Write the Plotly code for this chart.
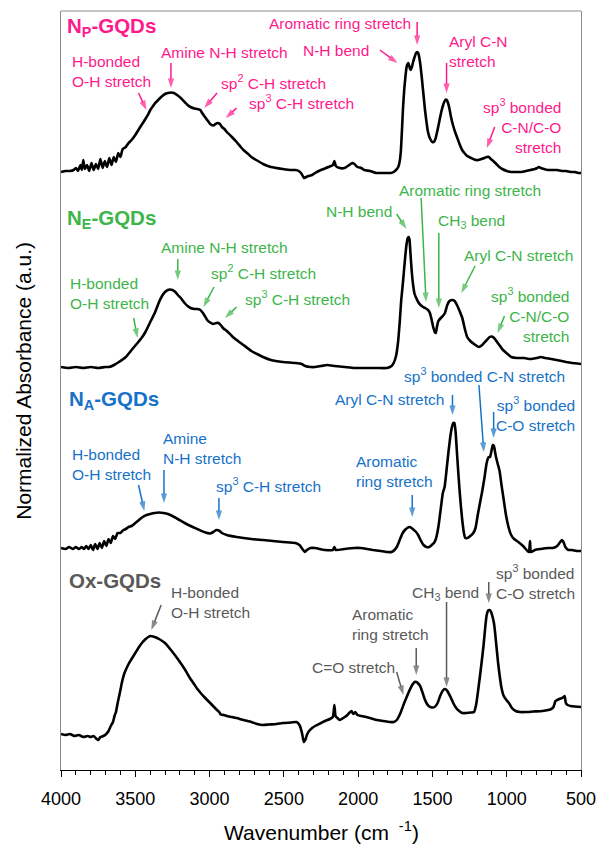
import plotly.graph_objects as go

# ---------------------------------------------------------------------------
# FTIR spectra (stacked, normalized absorbance with vertical offsets)
# ---------------------------------------------------------------------------
np_wn = [4000, 3970, 3940, 3915, 3900, 3885, 3870, 3860, 3850, 3840, 3825, 3810, 3795, 3780,
         3765, 3750, 3735, 3720, 3705, 3690, 3675, 3660, 3645, 3630, 3615, 3600, 3585, 3564,
         3545, 3525, 3500, 3475, 3458, 3432, 3412, 3399, 3380, 3366, 3346, 3326, 3300, 3280,
         3260, 3240, 3214, 3194, 3168, 3148, 3128, 3102, 3082, 3062, 3050, 3036, 3016, 2996,
         2975, 2960, 2945, 2930, 2917, 2900, 2884, 2850, 2818, 2790, 2772, 2740, 2719, 2686,
         2640, 2587, 2507, 2450, 2422, 2400, 2380, 2365, 2350, 2335, 2310, 2290, 2250, 2200,
         2170, 2160, 2150, 2124, 2091, 2060, 2040, 2025, 2005, 1980, 1959, 1920, 1880, 1840,
         1807, 1780, 1761, 1745, 1730, 1720, 1712, 1705, 1698, 1690, 1682, 1675, 1668, 1662,
         1656, 1650, 1645, 1638, 1630, 1620, 1610, 1603, 1596, 1588, 1580, 1570, 1560, 1550,
         1540, 1530, 1515, 1500, 1490, 1480, 1470, 1460, 1445, 1430, 1418, 1410, 1404, 1395,
         1385, 1375, 1360, 1345, 1330, 1315, 1300, 1285, 1266, 1240, 1210, 1190, 1170, 1150,
         1134, 1120, 1107, 1090, 1070, 1050, 1030, 1000, 969, 930, 900, 870, 840, 810, 795,
         784, 770, 750, 720, 690, 660, 630, 600, 570, 540, 520, 500]
np_abs = [5.98, 5.99, 5.99, 6.00, 6.02, 5.99, 6.05, 6.00, 6.10, 6.01, 6.05, 5.99, 6.07, 6.00,
          6.06, 6.01, 6.11, 6.02, 6.09, 6.03, 6.12, 6.05, 6.13, 6.08, 6.17, 6.13, 6.21, 6.23,
          6.27, 6.30, 6.35, 6.41, 6.45, 6.51, 6.56, 6.60, 6.64, 6.67, 6.70, 6.73, 6.76, 6.77,
          6.775, 6.77, 6.745, 6.72, 6.68, 6.65, 6.63, 6.615, 6.61, 6.60, 6.57, 6.54, 6.50, 6.46,
          6.445, 6.46, 6.47, 6.46, 6.43, 6.41, 6.38, 6.33, 6.28, 6.23, 6.20, 6.16, 6.13, 6.10,
          6.06, 6.03, 6.01, 6.00, 6.00, 5.99, 5.96, 5.92, 5.93, 5.94, 5.95, 5.97, 6.00, 6.03,
          6.05, 6.09, 6.04, 6.02, 6.02, 6.05, 6.07, 6.06, 6.03, 6.02, 6.00, 5.99, 5.97, 5.97,
          5.97, 5.97, 5.98, 6.00, 6.03, 6.09, 6.20, 6.40, 6.62, 6.80, 6.93, 7.02, 7.06, 7.07,
          7.04, 7.01, 7.00, 7.03, 7.08, 7.13, 7.17, 7.18, 7.17, 7.12, 7.04, 6.90, 6.75, 6.60,
          6.48, 6.38, 6.31, 6.28, 6.28, 6.31, 6.37, 6.44, 6.55, 6.64, 6.69, 6.705, 6.70, 6.67,
          6.61, 6.53, 6.44, 6.37, 6.31, 6.25, 6.20, 6.17, 6.14, 6.12, 6.10, 6.10, 6.11, 6.12,
          6.13, 6.13, 6.11, 6.09, 6.06, 6.03, 6.01, 5.99, 5.98, 5.98, 5.98, 5.99, 6.00, 6.01, 6.02,
          6.03, 6.02, 6.01, 6.00, 6.00, 6.00, 5.99, 5.99, 5.98, 5.98, 5.97, 5.97]

ne_wn = [4000, 3950, 3900, 3850, 3800, 3750, 3700, 3676, 3643, 3610, 3564, 3525, 3491, 3458,
         3432, 3399, 3366, 3340, 3320, 3300, 3280, 3267, 3250, 3230, 3214, 3194, 3168, 3148,
         3128, 3100, 3082, 3062, 3050, 3036, 3016, 2996, 2975, 2955, 2940, 2925, 2910, 2884,
         2850, 2818, 2772, 2719, 2680, 2640, 2587, 2507, 2422, 2380, 2356, 2320, 2290, 2250,
         2207, 2157, 2091, 2025, 1959, 1873, 1807, 1775, 1761, 1745, 1732, 1720, 1710, 1700,
         1690, 1682, 1674, 1666, 1660, 1654, 1648, 1640, 1630, 1620, 1609, 1596, 1580, 1563,
         1550, 1530, 1517, 1505, 1495, 1484, 1477, 1470, 1460, 1444, 1430, 1416, 1400, 1385,
         1370, 1350, 1335, 1320, 1299, 1280, 1266, 1245, 1220, 1187, 1165, 1140, 1115, 1101,
         1085, 1065, 1045, 1025, 1002, 969, 930, 883, 840, 800, 771, 740, 700, 665, 630, 600,
         560, 500]
ne_abs = [4.03, 4.02, 4.03, 4.02, 4.03, 4.02, 4.03, 4.03, 4.05, 4.08, 4.13, 4.20, 4.26, 4.32,
          4.38, 4.48, 4.58, 4.68, 4.74, 4.78, 4.80, 4.805, 4.80, 4.78, 4.75, 4.72, 4.67, 4.64,
          4.62, 4.61, 4.61, 4.60, 4.58, 4.55, 4.50, 4.475, 4.46, 4.47, 4.47, 4.45, 4.42, 4.39,
          4.34, 4.30, 4.25, 4.19, 4.16, 4.13, 4.10, 4.08, 4.07, 4.06, 4.04, 4.03, 4.03, 4.04,
          4.05, 4.04, 4.03, 4.02, 4.02, 4.02, 4.02, 4.04, 4.07, 4.14, 4.27, 4.48, 4.70, 4.85,
          5.02, 5.15, 5.26, 5.32, 5.33, 5.30, 5.17, 5.00, 4.85, 4.76, 4.72, 4.68, 4.65, 4.63,
          4.62, 4.60, 4.57, 4.50, 4.43, 4.38, 4.37, 4.43, 4.49, 4.52, 4.54, 4.57, 4.65, 4.69,
          4.70, 4.69, 4.65, 4.60, 4.52, 4.40, 4.33, 4.29, 4.26, 4.23, 4.25, 4.29, 4.33, 4.335,
          4.32, 4.28, 4.24, 4.20, 4.17, 4.13, 4.12, 4.12, 4.11, 4.12, 4.13, 4.12, 4.11, 4.10,
          4.09, 4.08, 4.07, 4.06]

na_wn = [4000, 3970, 3945, 3920, 3900, 3880, 3860, 3845, 3830, 3815, 3800, 3785, 3770, 3755,
         3740, 3725, 3710, 3695, 3680, 3665, 3650, 3635, 3620, 3600, 3580, 3564, 3545, 3525,
         3500, 3475, 3450, 3425, 3400, 3370, 3340, 3310, 3280, 3250, 3214, 3168, 3128, 3082,
         3036, 2996, 2975, 2955, 2937, 2917, 2884, 2818, 2719, 2640, 2507, 2422, 2395, 2375,
         2360, 2345, 2320, 2290, 2224, 2170, 2160, 2150, 2091, 2025, 1983, 1940, 1900, 1850,
         1807, 1775, 1755, 1740, 1728, 1715, 1700, 1685, 1670, 1654, 1640, 1625, 1610, 1596,
         1580, 1560, 1540, 1522, 1505, 1490, 1477, 1460, 1445, 1430, 1418, 1405, 1392, 1380,
         1370, 1360, 1352, 1344, 1336, 1328, 1319, 1308, 1298, 1288, 1279, 1265, 1245, 1225,
         1210, 1195, 1180, 1167, 1150, 1135, 1121, 1112, 1104, 1094, 1086, 1075, 1062, 1048,
         1035, 1020, 1005, 988, 970, 950, 922, 890, 860, 850, 843, 838, 810, 770, 720, 690,
         660, 640, 628, 618, 605, 585, 560, 530, 500]
na_abs = [2.22, 2.21, 2.23, 2.21, 2.23, 2.21, 2.23, 2.21, 2.24, 2.21, 2.25, 2.20, 2.26, 2.21,
          2.27, 2.22, 2.29, 2.24, 2.31, 2.27, 2.34, 2.31, 2.37, 2.37, 2.40, 2.41, 2.43, 2.44,
          2.47, 2.50, 2.53, 2.55, 2.56, 2.57, 2.575, 2.57, 2.56, 2.54, 2.51, 2.47, 2.44, 2.41,
          2.38, 2.365, 2.38, 2.40, 2.395, 2.37, 2.35, 2.33, 2.31, 2.30, 2.28, 2.27, 2.25, 2.21,
          2.18, 2.20, 2.22, 2.22, 2.20, 2.20, 2.23, 2.20, 2.21, 2.22, 2.22, 2.21, 2.20, 2.19,
          2.18, 2.18, 2.20, 2.23, 2.27, 2.32, 2.37, 2.40, 2.42, 2.43, 2.42, 2.40, 2.38, 2.35,
          2.30, 2.25, 2.23, 2.23, 2.25, 2.27, 2.31, 2.43, 2.60, 2.77, 2.83, 3.00, 3.18, 3.33,
          3.42, 3.47, 3.47, 3.38, 3.20, 3.02, 2.83, 2.63, 2.48, 2.37, 2.32, 2.32, 2.34, 2.37,
          2.42, 2.55, 2.67, 2.77, 2.92, 3.07, 3.13, 3.13, 3.18, 3.25, 3.24, 3.15, 3.07, 2.99,
          2.85, 2.70, 2.55, 2.43, 2.35, 2.31, 2.28, 2.24, 2.19, 2.18, 2.29, 2.18, 2.20, 2.21,
          2.22, 2.22, 2.24, 2.28, 2.30, 2.28, 2.23, 2.20, 2.20, 2.19, 2.19]

ox_wn = [4000, 3970, 3940, 3910, 3880, 3850, 3820, 3800, 3780, 3760, 3748, 3735, 3715, 3695,
         3680, 3665, 3650, 3640, 3630, 3620, 3610, 3600, 3591, 3575, 3564, 3545, 3525, 3500,
         3475, 3450, 3430, 3412, 3399, 3380, 3360, 3340, 3300, 3260, 3214, 3168, 3128, 3100,
         3082, 3060, 3036, 3016, 2996, 2970, 2950, 2935, 2925, 2904, 2884, 2850, 2818, 2772,
         2719, 2680, 2640, 2600, 2550, 2507, 2450, 2415, 2395, 2378, 2366, 2356, 2345, 2330,
         2310, 2290, 2250, 2224, 2190, 2170, 2160, 2152, 2140, 2124, 2100, 2080, 2060, 2045,
         2032, 2020, 2005, 1980, 1959, 1920, 1873, 1830, 1790, 1761, 1740, 1715, 1690, 1662,
         1640, 1620, 1609, 1596, 1583, 1570, 1555, 1540, 1525, 1505, 1485, 1465, 1448, 1432,
         1418, 1405, 1392, 1375, 1360, 1340, 1320, 1299, 1270, 1240, 1220, 1205, 1192, 1180,
         1167, 1155, 1145, 1135, 1125, 1115, 1105, 1095, 1086, 1078, 1068, 1058, 1048, 1035,
         1020, 1002, 985, 965, 940, 910, 870, 820, 760, 720, 700, 685, 672, 660, 645, 628,
         616, 610, 602, 590, 570, 540, 500]
ox_abs = [0.36, 0.35, 0.36, 0.34, 0.35, 0.33, 0.34, 0.33, 0.34, 0.31, 0.30, 0.33, 0.34, 0.36,
          0.39, 0.44, 0.48, 0.54, 0.58, 0.66, 0.73, 0.80, 0.87, 0.96, 1.00, 1.06, 1.11, 1.17,
          1.23, 1.28, 1.31, 1.33, 1.34, 1.335, 1.325, 1.31, 1.27, 1.20, 1.11, 1.01, 0.91, 0.85,
          0.81, 0.77, 0.73, 0.70, 0.67, 0.63, 0.60, 0.58, 0.555, 0.55, 0.54, 0.53, 0.52, 0.50,
          0.48, 0.46, 0.45, 0.455, 0.46, 0.47, 0.475, 0.48, 0.45, 0.37, 0.28, 0.30, 0.35, 0.39,
          0.42, 0.44, 0.47, 0.49, 0.51, 0.53, 0.65, 0.54, 0.52, 0.50, 0.52, 0.54, 0.57, 0.59,
          0.56, 0.58, 0.55, 0.54, 0.535, 0.52, 0.50, 0.49, 0.48, 0.48, 0.50, 0.57, 0.67, 0.77,
          0.84, 0.88, 0.88, 0.865, 0.84, 0.79, 0.72, 0.67, 0.64, 0.625, 0.63, 0.67, 0.74, 0.79,
          0.81, 0.80, 0.77, 0.72, 0.67, 0.62, 0.59, 0.57, 0.57, 0.575, 0.58, 0.66, 0.80, 0.94,
          1.10, 1.26, 1.42, 1.55, 1.595, 1.60, 1.58, 1.53, 1.47, 1.37, 1.22, 1.07, 0.95, 0.82,
          0.74, 0.70, 0.67, 0.62, 0.59, 0.58, 0.58, 0.585, 0.59, 0.60, 0.61, 0.63, 0.69, 0.70,
          0.71, 0.72, 0.73, 0.74, 0.67, 0.65, 0.64, 0.635, 0.63]

SPECTRA = [("NP-GQDs", np_wn, np_abs), ("NE-GQDs", ne_wn, ne_abs),
           ("NA-GQDs", na_wn, na_abs), ("Ox-GQDs", ox_wn, ox_abs)]

# ---------------------------------------------------------------------------
# Peak assignments: (text, wavenumber, stacked y, x-anchor, group)
# ---------------------------------------------------------------------------
COLORS = {"P": "#FF1A8C", "E": "#3DB54A", "A": "#1672C8", "O": "#595959"}

TITLES = [("<b>N<sub>P</sub>-GQDs</b>", 3974, 7.43, "P"),
          ("<b>N<sub>E</sub>-GQDs</b>", 3974, 5.51, "E"),
          ("<b>N<sub>A</sub>-GQDs</b>", 3960, 3.70, "A"),
          ("<b>Ox-GQDs</b>", 3960, 1.90, "O")]

LABELS = [
    ("H-bonded<br>O-H stretch", 3941, 6.985, "left", "P"),
    ("Amine N-H stretch", 3340, 7.18, "left", "P"),
    ("sp<sup>2</sup> C-H stretch", 2937, 6.88, "left", "P"),
    ("sp<sup>3</sup> C-H stretch", 2745, 6.68, "left", "P"),
    ("Aromatic ring stretch", 1629, 7.47, "right", "P"),
    ("N-H bend", 1913, 7.20, "right", "P"),
    ("Aryl C-N<br>stretch", 1405, 7.19, "left", "P"),
    ("sp<sup>3</sup> bonded<br>C-N/C-O<br>stretch", 619, 6.445, "right", "P"),

    ("H-bonded<br>O-H stretch", 3954, 4.77, "left", "E"),
    ("Amine N-H stretch", 3340, 5.23, "left", "E"),
    ("sp<sup>2</sup> C-H stretch", 3003, 4.98, "left", "E"),
    ("sp<sup>3</sup> C-H stretch", 2778, 4.72, "left", "E"),
    ("Aromatic ring stretch", 1741, 5.80, "left", "E"),
    ("N-H bend", 1761, 5.59, "right", "E"),
    ("CH<sub>3</sub> bend", 1477, 5.49, "left", "E"),
    ("Aryl C-N stretch", 1299, 5.15, "left", "E"),
    ("sp<sup>3</sup> bonded<br>C-N/C-O<br>stretch", 566, 4.55, "right", "E"),

    ("H-bonded<br>O-H stretch", 3941, 3.06, "left", "A"),
    ("Amine<br>N-H stretch", 3326, 3.22, "left", "A"),
    ("sp<sup>3</sup> C-H stretch", 2970, 2.85, "left", "A"),
    ("Aromatic<br>ring stretch", 2025, 2.985, "left", "A"),
    ("Aryl C-N stretch", 1411, 3.71, "right", "A"),
    ("sp<sup>3</sup> bonded C-N stretch", 1708, 3.95, "left", "A"),
    ("sp<sup>3</sup> bonded<br>C-O stretch", 526, 3.565, "right", "A"),

    ("H-bonded<br>O-H stretch", 3274, 1.675, "left", "O"),
    ("sp<sup>3</sup> bonded<br>C-O stretch", 1088, 1.88, "left", "O"),
    ("CH<sub>3</sub> bend", 1649, 1.77, "left", "O"),
    ("Aromatic<br>ring stretch", 2058, 1.46, "left", "O"),
    ("C=O stretch", 2323, 1.03, "left", "O"),
]

# Pointer arrows: (tail wavenumber, tail y, head wavenumber, head y, group)
ARROWS = [
    (1603, 7.48, 1603, 7.25, "P"), (1854, 7.20, 1735, 7.07, "P"),
    (1405, 7.07, 1405, 6.77, "P"), (1081, 6.43, 1134, 6.22, "P"),
    (3478, 6.77, 3425, 6.60, "P"), (3260, 7.07, 3260, 6.82, "P"),
    (2950, 6.77, 3036, 6.62, "P"), (2818, 6.62, 2891, 6.52, "P"),

    (3511, 4.52, 3485, 4.32, "E"), (3214, 5.11, 3214, 4.90, "E"),
    (2970, 4.83, 3042, 4.63, "E"), (2818, 4.63, 2897, 4.52, "E"),
    (1576, 5.72, 1543, 4.68, "E"), (1741, 5.56, 1675, 5.41, "E"),
    (1457, 5.37, 1457, 4.62, "E"), (1213, 5.04, 1306, 4.77, "E"),
    (1015, 4.54, 1061, 4.37, "E"),

    (3478, 2.85, 3439, 2.59, "A"), (3307, 3.00, 3307, 2.67, "A"),
    (2937, 2.72, 2937, 2.50, "A"), (1636, 2.75, 1636, 2.53, "A"),
    (1365, 3.75, 1365, 3.55, "A"), (1187, 3.85, 1154, 3.18, "A"),
    (1088, 3.58, 1088, 3.32, "A"),

    (3326, 1.65, 3392, 1.40, "O"), (1121, 1.88, 1121, 1.67, "O"),
    (1405, 1.68, 1405, 0.83, "O"), (1609, 1.22, 1609, 0.95, "O"),
    (1741, 0.98, 1695, 0.75, "O"),
]

X_TICKS = [4000, 3500, 3000, 2500, 2000, 1500, 1000, 500]
FONT = "Liberation Sans, Arial, sans-serif"

fig = go.Figure()
for name, wn, ab in SPECTRA:
    fig.add_trace(go.Scatter(x=wn, y=ab, mode="lines", name=name,
                             line=dict(color="black", width=2.6, shape="spline", smoothing=0.4),
                             hoverinfo="skip", showlegend=False))

# Arrows as two-point lines with an arrow-shaped marker at the head
for x0, y0, x1, y1, grp in ARROWS:
    c = COLORS[grp]
    fig.add_trace(go.Scatter(x=[x0, x1], y=[y0, y1], mode="lines+markers",
                             line=dict(color=c, width=1.5),
                             marker=dict(symbol="arrow", size=[0, 10], angleref="previous",
                                         color=c, line=dict(width=0)),
                             hoverinfo="skip", showlegend=False))

annotations = []
for text, x, y, grp in TITLES:
    annotations.append(dict(text=text, x=x, y=y, xref="x", yref="y", xanchor="left",
                            yanchor="middle", showarrow=False,
                            font=dict(family=FONT, size=20.5, color=COLORS[grp])))
for text, x, y, anchor, grp in LABELS:
    annotations.append(dict(text=text, x=x, y=y, xref="x", yref="y", xanchor=anchor,
                            yanchor="middle", align=anchor, showarrow=False,
                            font=dict(family=FONT, size=15.5, color=COLORS[grp])))

# Axis titles
annotations.append(dict(text="Normalized Absorbance (a.u.)", xref="paper", yref="paper",
                        x=-0.0736, y=0.5125, textangle=-90, showarrow=False,
                        xanchor="center", yanchor="middle",
                        font=dict(family=FONT, size=21, color="black")))
annotations.append(dict(text="Wavenumber (cm <sup>&nbsp;-1</sup>)", xref="paper", yref="paper",
                        x=0.5, y=-0.0804, showarrow=False, xanchor="center", yanchor="middle",
                        font=dict(family=FONT, size=21, color="black")))

fig.update_layout(
    width=607, height=844,
    margin=dict(l=61, r=16, t=11, b=74),
    paper_bgcolor="white", plot_bgcolor="white",
    annotations=annotations,
    shapes=[dict(type="line", xref="paper", yref="paper", x0=0, x1=1, y0=1, y1=1,
                 line=dict(color="#8C8C8C", width=1.2))],
)
fig.update_xaxes(range=[4000, 500], tickvals=X_TICKS, ticktext=[str(v) for v in X_TICKS],
                 ticks="outside", ticklen=6, tickwidth=1.2, tickcolor="black",
                 minor=dict(dtick=100, ticks="outside", ticklen=4, tickwidth=1, tickcolor="black"),
                 showline=True, linecolor="black", linewidth=1.2, mirror=False,
                 showgrid=False, zeroline=False, ticklabelstandoff=6,
                 tickfont=dict(family=FONT, size=18, color="black"))
fig.update_yaxes(range=[0, 7.59], showticklabels=False, ticks="", showgrid=False,
                 zeroline=False, showline=True, linecolor="#8C8C8C", linewidth=1.2, mirror=True)

fig.write_html("out.html")
